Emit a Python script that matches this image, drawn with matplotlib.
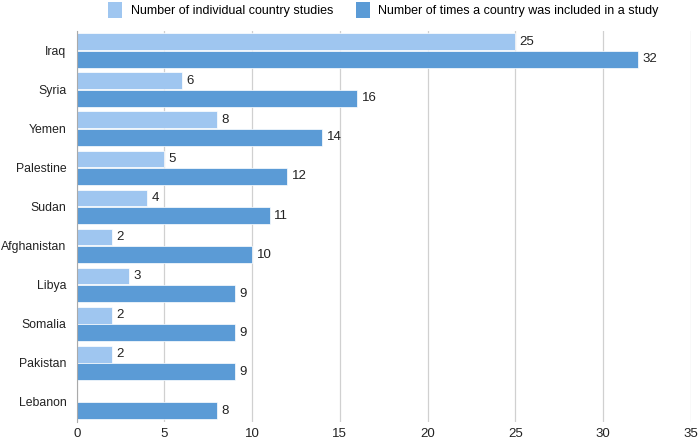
import numpy as np
import matplotlib.pyplot as plt
from matplotlib.patches import Patch

plt.rcParams['font.family'] = ['Liberation Sans', 'DejaVu Sans']

# Data
countries = ["Iraq", "Syria", "Yemen", "Palestine", "Sudan",
             "Afghanistan", "Libya", "Somalia", "Pakistan", "Lebanon"]
individual_studies = [25, 6, 8, 5, 4, 2, 3, 2, 2, 0]
times_included = [32, 16, 14, 12, 11, 10, 9, 9, 9, 8]
series_names = ["Number of individual country studies",
                "Number of times a country was included in a study"]

light = "#9fc6f0"
dark = "#5b9bd6"

fig = plt.figure(figsize=(7, 4.4), dpi=100)
ax = fig.add_axes([0.1096, 0.042, 0.877, 0.8875])

y = np.arange(len(countries))
h = 0.43
off = 0.225
ax.barh(y - off, individual_studies, height=h, color=light,
        edgecolor="white", linewidth=0.5, zorder=3)
ax.barh(y + off, times_included, height=h, color=dark,
        edgecolor="white", linewidth=0.5, zorder=3)

# value labels (skip zero)
for yi, v in zip(y, individual_studies):
    if v > 0:
        ax.text(v + 0.25, yi - off, str(v), va="center", ha="left",
                fontsize=9.5, color="#222222")
for yi, v in zip(y, times_included):
    ax.text(v + 0.25, yi + off, str(v), va="center", ha="left",
            fontsize=9.5, color="#222222")

ax.set_xlim(0, 35)
ax.set_ylim(9.5, -0.5)
ax.set_xticks(range(0, 36, 5))
ax.set_yticks(y)
ax.set_yticklabels(countries)
ax.tick_params(axis="both", length=0, labelsize=9.5, colors="#222222")
ax.tick_params(axis="y", pad=7.5, labelsize=8.8)
ax.tick_params(axis="x", pad=4.5)

ax.grid(axis="x", color="#d0d0d0", linewidth=0.9, zorder=0)
for s in ["top", "right", "bottom"]:
    ax.spines[s].set_visible(False)
ax.spines["left"].set_color("#aaaaaa")
ax.spines["left"].set_zorder(4)

handles = [Patch(facecolor=light, edgecolor="none"),
           Patch(facecolor=dark, edgecolor="none")]
fig.legend(handles, series_names, loc="upper center",
           bbox_to_anchor=(0.548, 1.02), ncol=2, frameon=False,
           fontsize=9, handlelength=1.1, handleheight=1.5,
           columnspacing=1.8, handletextpad=0.7)

fig.savefig("out.png", dpi=100)
